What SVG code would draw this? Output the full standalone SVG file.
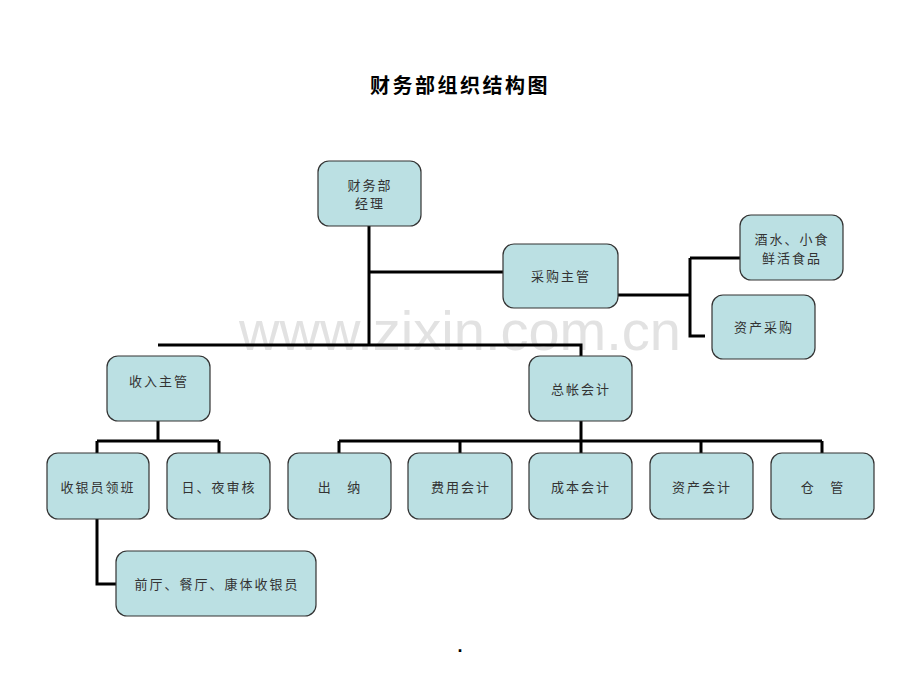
<svg xmlns="http://www.w3.org/2000/svg" width="920" height="690" viewBox="0 0 920 690">
<style>
.box{fill:#bbe0e3;stroke:#333;stroke-width:1.2}
.t{font-family:"Noto Sans CJK SC","Liberation Sans",sans-serif;font-size:13px;fill:#333;text-anchor:middle;letter-spacing:2px}
.c{fill:none;stroke:#000;stroke-width:3}
.wm{font-family:"Liberation Sans",Arial,sans-serif;font-size:56px;fill:#e2e2e2;text-anchor:middle}
</style>
<rect width="920" height="690" fill="#fff"/>
<text class="wm" x="460" y="350">www.zixin.com.cn</text>
<text x="460" y="93" font-family="'Noto Sans CJK SC',sans-serif" font-size="20" font-weight="bold" fill="#000" text-anchor="middle" letter-spacing="2.5">财务部组织结构图</text>
<g id="connectors">
<path class="c" d="M369 226V345"/>
<path class="c" d="M368 272H503"/>
<path class="c" d="M618 295H690M690 258H740M690 258V336H705"/>
<path class="c" d="M158 345H581V356"/>
<path class="c" d="M158 421V441M97 441H219M97 441V453M219 441V453"/>
<path class="c" d="M581 421V453M339 441H822M339 441V453M460 441V453M701 441V453M822 441V453"/>
<path class="c" d="M97 519V584H116"/>
</g>
<g id="n_mgr"><rect class="box" x="318" y="161" width="103" height="65" rx="11"/><text class="t" x="370" y="190">财务部</text><text class="t" x="370" y="208">经理</text></g>
<g id="n_purchase"><rect class="box" x="503" y="244" width="115" height="64" rx="11"/><text class="t" x="561" y="281">采购主管</text></g>
<g id="n_food"><rect class="box" x="740" y="215" width="103" height="65" rx="11"/><text class="t" x="792" y="244">酒水、小食</text><text class="t" x="792" y="263">鲜活食品</text></g>
<g id="n_asset_buy"><rect class="box" x="712" y="295" width="103" height="64" rx="11"/><text class="t" x="764" y="332">资产采购</text></g>
<g id="n_income"><rect class="box" x="107" y="356" width="103" height="65" rx="11"/><text class="t" x="159" y="386">收入主管</text></g>
<g id="n_gl"><rect class="box" x="529" y="356" width="103" height="65" rx="11"/><text class="t" x="581" y="394">总帐会计</text></g>
<g id="n_cashlead"><rect class="box" x="47" y="453" width="102" height="66" rx="11"/><text class="t" x="98" y="492">收银员领班</text></g>
<g id="n_audit"><rect class="box" x="167" y="453" width="103" height="66" rx="11"/><text class="t" x="219" y="492">日、夜审核</text></g>
<g id="n_cashier"><rect class="box" x="288" y="453" width="103" height="66" rx="11"/><text class="t" x="340" y="492" xml:space="preserve">出   纳</text></g>
<g id="n_expense"><rect class="box" x="408" y="453" width="104" height="66" rx="11"/><text class="t" x="461" y="492">费用会计</text></g>
<g id="n_cost"><rect class="box" x="529" y="453" width="103" height="66" rx="11"/><text class="t" x="581" y="492">成本会计</text></g>
<g id="n_assetacc"><rect class="box" x="650" y="453" width="103" height="66" rx="11"/><text class="t" x="702" y="492">资产会计</text></g>
<g id="n_store"><rect class="box" x="771" y="453" width="103" height="66" rx="11"/><text class="t" x="823" y="492" xml:space="preserve">仓   管</text></g>
<g id="n_cashiers"><rect class="box" x="116" y="551" width="200" height="65" rx="11"/><text class="t" x="217" y="589">前厅、餐厅、康体收银员</text></g>
<text x="460" y="652" font-family="'Liberation Sans',sans-serif" font-size="18" font-weight="bold" fill="#000" text-anchor="middle">.</text>
</svg>
